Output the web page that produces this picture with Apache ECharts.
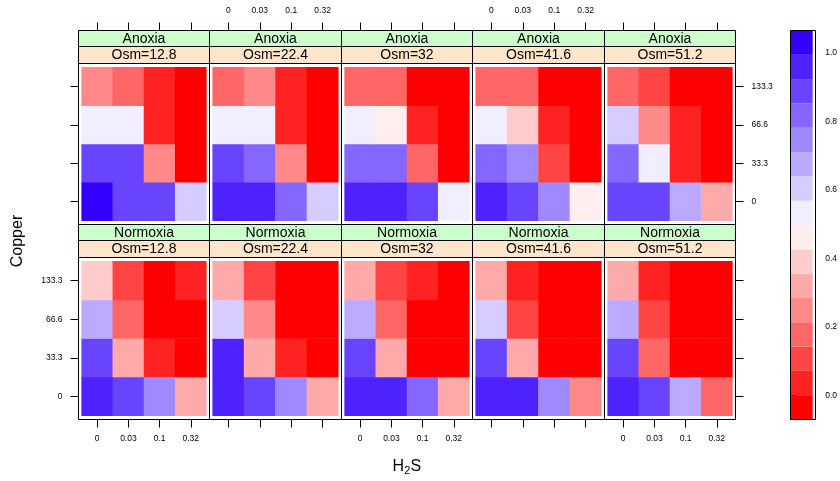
<!DOCTYPE html>
<html>
<head>
<meta charset="utf-8">
<title>Copper x H2S levelplot</title>
<script src="https://cdn.jsdelivr.net/npm/echarts@6/dist/echarts.min.js"></script>
<style>
  * { margin: 0; padding: 0; }
  body { background: #ffffff; }
  #chart { width: 840px; height: 481px; }
</style>
</head>
<body>
<div id="chart"></div>
<script>
// axis levels
const h2sLevels = ['0', '0.03', '0.1', '0.32'];
const copperLevels = ['0', '33.3', '66.6', '133.3'];
const osmLevels = ['12.8', '22.4', '32', '41.6', '51.2'];
const oxygenLevels = ['Anoxia', 'Normoxia'];

// cell values, one row per copper level (0 -> 133.3), columns follow h2sLevels
const anoxia12_8 = [[1.0, 0.89, 0.89, 0.61], [0.89, 0.89, 0.25, 0.0], [0.53, 0.53, 0.04, 0.0], [0.25, 0.18, 0.04, 0.0]];
const anoxia22_4 = [[0.96, 0.96, 0.82, 0.61], [0.89, 0.82, 0.25, 0.0], [0.53, 0.53, 0.04, 0.0], [0.18, 0.25, 0.04, 0.0]];
const anoxia32 = [[0.96, 0.96, 0.89, 0.53], [0.82, 0.82, 0.18, 0.0], [0.53, 0.46, 0.04, 0.0], [0.18, 0.18, 0.0, 0.0]];
const anoxia41_6 = [[0.96, 0.89, 0.75, 0.46], [0.82, 0.75, 0.11, 0.0], [0.53, 0.39, 0.04, 0.0], [0.18, 0.18, 0.0, 0.0]];
const anoxia51_2 = [[0.89, 0.89, 0.68, 0.32], [0.82, 0.53, 0.04, 0.0], [0.61, 0.25, 0.04, 0.0], [0.18, 0.11, 0.0, 0.0]];
const normoxia12_8 = [[0.96, 0.89, 0.75, 0.32], [0.89, 0.32, 0.04, 0.0], [0.68, 0.18, 0.0, 0.0], [0.39, 0.11, 0.0, 0.04]];
const normoxia22_4 = [[0.96, 0.89, 0.75, 0.32], [0.96, 0.32, 0.04, 0.0], [0.61, 0.25, 0.0, 0.0], [0.32, 0.11, 0.0, 0.0]];
const normoxia32 = [[0.96, 0.96, 0.82, 0.32], [0.89, 0.32, 0.0, 0.0], [0.68, 0.18, 0.0, 0.0], [0.32, 0.11, 0.04, 0.0]];
const normoxia41_6 = [[0.96, 0.96, 0.75, 0.25], [0.89, 0.32, 0.0, 0.0], [0.61, 0.11, 0.0, 0.0], [0.32, 0.04, 0.0, 0.0]];
const normoxia51_2 = [[0.96, 0.89, 0.68, 0.18], [0.89, 0.18, 0.0, 0.0], [0.68, 0.11, 0.0, 0.0], [0.32, 0.04, 0.0, 0.0]];

// colour key: 16 bands, red -> white -> #3300FF
const keyBreaks = [-0.070, 0.001, 0.072, 0.143, 0.214, 0.285, 0.356, 0.427, 0.498,
  0.569, 0.640, 0.711, 0.782, 0.853, 0.924, 0.995, 1.066];
const keyColors = ['#FF0000', '#FF2222', '#FF4444', '#FF6666', '#FF8888', '#FFAAAA', '#FFCCCC', '#FFEEEE',
  '#F1EEFF', '#D6CCFF', '#BBAAFF', '#A088FF', '#8566FF', '#6944FF', '#4E22FF', '#3300FF'];
const keyTicks = [0, 0.2, 0.4, 0.6, 0.8, 1.0];

const panels = [
  [anoxia12_8, anoxia22_4, anoxia32, anoxia41_6, anoxia51_2],
  [normoxia12_8, normoxia22_4, normoxia32, normoxia41_6, normoxia51_2]
];

// layout (lattice-like)
const FONT = 'Liberation Sans, Arial, Helvetica, sans-serif';
const X0 = 78.5, PW = 131.4, Y0 = 30, RH = 194.5, SH = 16.3;
const snap = v => Math.floor(v) + 0.5;
const colEdge = c => snap(X0 + c * PW);
const rowTop = r => snap(Y0 + r * RH);
const PAD = 0.1 / 4.2;

const grids = [], xAxes = [], yAxes = [], series = [], graphics = [];

for (let r = 0; r < 2; r++) {
  for (let c = 0; c < 5; c++) {
    const idx = r * 5 + c;
    const left = colEdge(c), right = colEdge(c + 1);
    const sTop = rowTop(r);
    const s1 = snap(sTop + SH), s2 = snap(sTop + 2 * SH);
    const bottom = r === 0 ? rowTop(1) : snap(Y0 + 2 * RH);
    const padX = (right - left) * PAD, padY = (bottom - s2) * PAD;
    const gTop = s2 + padY;

    grids.push({
      left: left + padX, top: gTop,
      width: right - left - 2 * padX, height: bottom - s2 - 2 * padY
    });

    xAxes.push({
      type: 'category', gridIndex: idx, data: h2sLevels,
      position: r === 0 ? 'top' : 'bottom',
      offset: r === 0 ? gTop - rowTop(0) : padY,
      axisLine: { show: false },
      axisTick: { show: true, alignWithLabel: true, length: 8, lineStyle: { color: '#000', width: 1 } },
      axisLabel: {
        show: r === 0 ? c % 2 === 1 : c % 2 === 0,
        fontSize: 8.5, color: '#000', fontFamily: FONT, margin: 15
      },
      splitLine: { show: false }
    });

    yAxes.push({
      type: 'category', gridIndex: idx, data: copperLevels,
      show: c === 0 || c === 4,
      position: c === 0 ? 'left' : 'right',
      offset: padX,
      axisLine: { show: false },
      axisTick: { show: true, alignWithLabel: true, length: 8, lineStyle: { color: '#000', width: 1 } },
      axisLabel: {
        show: (c === 0 && r === 1) || (c === 4 && r === 0),
        fontSize: 8.5, color: '#000', fontFamily: FONT, margin: 16
      },
      splitLine: { show: false }
    });

    const data = [];
    panels[r][c].forEach((row, yi) => row.forEach((v, xi) => data.push([xi, yi, v])));
    series.push({
      type: 'heatmap', xAxisIndex: idx, yAxisIndex: idx, data: data,
      emphasis: { disabled: true }, progressive: 0
    });

    // strips and panel border
    graphics.push(
      { type: 'rect', shape: { x: left, y: sTop, width: right - left, height: s1 - sTop },
        style: { fill: '#CCFFCC', stroke: '#000', lineWidth: 1 }, z: 10 },
      { type: 'rect', shape: { x: left, y: s1, width: right - left, height: s2 - s1 },
        style: { fill: '#FFE5CC', stroke: '#000', lineWidth: 1 }, z: 10 },
      { type: 'text', x: (left + right) / 2, y: (sTop + s1) / 2 + 0.5, z: 11,
        style: { text: oxygenLevels[r], fontSize: 14, fontFamily: FONT, fill: '#000', align: 'center', verticalAlign: 'middle' } },
      { type: 'text', x: (left + right) / 2, y: (s1 + s2) / 2 + 0.5, z: 11,
        style: { text: 'Osm=' + osmLevels[c], fontSize: 14, fontFamily: FONT, fill: '#000', align: 'center', verticalAlign: 'middle' } },
      { type: 'rect', shape: { x: left, y: s2, width: right - left, height: bottom - s2 },
        style: { fill: 'none', stroke: '#000', lineWidth: 1 }, z: 10 }
    );
  }
}

// colour key
const keyLeft = 790.5, keyWidth = 25, keyTop = rowTop(0), keyBottom = snap(Y0 + 2 * RH);
const keyIdx = grids.length;
grids.push({ left: keyLeft, top: keyTop, width: keyWidth, height: keyBottom - keyTop });
xAxes.push({ type: 'value', gridIndex: keyIdx, min: 0, max: 1, show: false });
yAxes.push({
  type: 'value', gridIndex: keyIdx, min: keyBreaks[0], max: keyBreaks[keyBreaks.length - 1],
  position: 'right',
  axisLine: { show: false },
  axisTick: { show: true, length: 6, customValues: keyTicks, lineStyle: { color: '#000', width: 1 } },
  axisLabel: {
    show: true, customValues: keyTicks, formatter: v => Number(v).toFixed(1),
    fontSize: 8.5, color: '#000', fontFamily: FONT, margin: 12.5
  },
  splitLine: { show: false }
});
const keyData = keyColors.map((col, k) => [keyBreaks[k], keyBreaks[k + 1], k]);
series.push({
  type: 'custom', xAxisIndex: keyIdx, yAxisIndex: keyIdx, data: keyData,
  encode: { y: [0, 1] },
  renderItem: (params, api) => {
    const p0 = api.coord([0, api.value(0)]);
    const p1 = api.coord([1, api.value(1)]);
    return {
      type: 'rect',
      shape: { x: p0[0], y: p1[1], width: p1[0] - p0[0], height: p0[1] - p1[1] },
      style: { fill: keyColors[api.value(2)] }
    };
  }
});
graphics.push({ type: 'rect', shape: { x: keyLeft, y: keyTop, width: keyWidth, height: keyBottom - keyTop },
  style: { fill: 'none', stroke: '#000', lineWidth: 1 }, z: 10 });

// axis titles
graphics.push(
  { type: 'text', x: 18, y: 241, rotation: Math.PI / 2, z: 11,
    style: { text: 'Copper', fontSize: 16, fontFamily: FONT, fill: '#000', align: 'center', verticalAlign: 'middle' } },
  { type: 'text', x: 392.5, y: 466.5, z: 11,
    style: { text: 'H', fontSize: 16, fontFamily: FONT, fill: '#000', align: 'left', verticalAlign: 'middle' } },
  { type: 'text', x: 404.2, y: 471, z: 11,
    style: { text: '2', fontSize: 11, fontFamily: FONT, fill: '#000', align: 'left', verticalAlign: 'middle' } },
  { type: 'text', x: 410.6, y: 466.5, z: 11,
    style: { text: 'S', fontSize: 16, fontFamily: FONT, fill: '#000', align: 'left', verticalAlign: 'middle' } }
);

const chart = echarts.init(document.getElementById('chart'), null, { renderer: 'canvas' });
chart.setOption({
  animation: false,
  backgroundColor: '#ffffff',
  textStyle: { fontFamily: FONT },
  grid: grids,
  xAxis: xAxes,
  yAxis: yAxes,
  visualMap: {
    type: 'piecewise', show: false, dimension: 2,
    seriesIndex: series.map((s, i) => i).filter(i => i < keyIdx),
    pieces: keyColors.map((col, k) => ({ gte: keyBreaks[k], lt: keyBreaks[k + 1], color: col }))
  },
  series: series,
  graphic: { elements: graphics }
});
</script>
</body>
</html>
